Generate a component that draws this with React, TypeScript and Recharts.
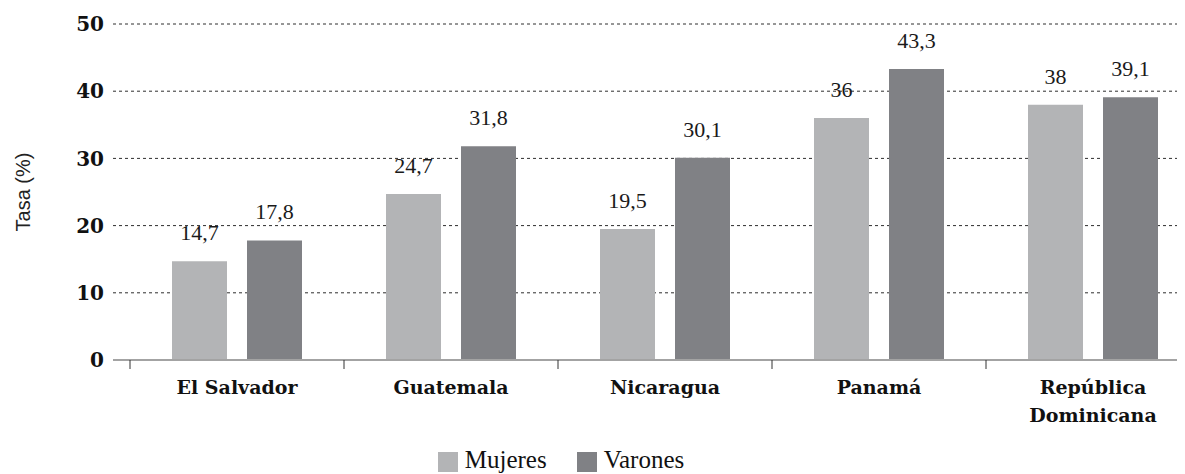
import React from 'react';
import { BarChart, Bar, XAxis, YAxis, CartesianGrid, Legend, LabelList } from 'recharts';

// Tasa (%) por país y sexo
const COUNTRIES = ['El Salvador', 'Guatemala', 'Nicaragua', 'Panamá', 'República\nDominicana'];
const MUJERES = [14.7, 24.7, 19.5, 36, 38];
const VARONES = [17.8, 31.8, 30.1, 43.3, 39.1];
const Y_TICKS = [0, 10, 20, 30, 40, 50];

const SERIES = [
  { key: 'mujeres', name: 'Mujeres', color: '#b3b4b6' },
  { key: 'varones', name: 'Varones', color: '#808185' },
];

const data = COUNTRIES.map((name, i) => ({
  name,
  mujeres: MUJERES[i],
  varones: VARONES[i],
}));

const fmt = (v: any) => String(v).replace('.', ',');

const labelStyle = {
  fontFamily: '"Liberation Serif", serif',
  fontSize: 22,
  fill: '#1a1a1a',
};

function CountryTick({ x, y, payload }: any) {
  // tick mark sits on the left edge of each category band
  const half = payload?.offset ?? 107;
  const lines = String(payload.value).split('\n');
  return (
    <g>
      <line x1={x - half} x2={x - half} y1={y} y2={y + 9} stroke="#333" strokeWidth={1} />
      <text
        x={x}
        y={y + 34}
        textAnchor="middle"
        fontFamily="DejaVu Serif"
        fontWeight="bold"
        fontSize={19}
        fill="#111"
      >
        {lines.map((line, i) => (
          <tspan key={i} x={x} dy={i === 0 ? 0 : 28}>
            {line}
          </tspan>
        ))}
      </text>
    </g>
  );
}

function SeriesLegend() {
  return (
    <div
      style={{
        display: 'flex',
        justifyContent: 'center',
        alignItems: 'flex-end',
        gap: 30,
        height: 24,
        fontFamily: '"Liberation Serif", serif',
        fontSize: 25,
        color: '#111',
      }}
    >
      {SERIES.map((s) => (
        <div key={s.key} style={{ display: 'flex', alignItems: 'flex-end', gap: 7 }}>
          <span style={{ display: 'inline-block', width: 20, height: 20, background: s.color }} />
          <span style={{ lineHeight: '24px' }}>{s.name}</span>
        </div>
      ))}
    </div>
  );
}

export default function App() {
  return (
    <div style={{ width: 1177, overflow: 'hidden' }}>
      <BarChart
        width={1192}
        height={466}
        data={data}
        margin={{ top: 16, right: 0, bottom: 2, left: 0 }}
        barSize={55}
        barGap={20}
      >
        <CartesianGrid vertical={false} stroke="#2e2e2e" strokeDasharray="3 3" />
        <XAxis
          dataKey="name"
          interval={0}
          height={88}
          padding={{ left: 17, right: 0 }}
          tickSize={0}
          tickMargin={0}
          tickLine={false}
          axisLine={{ stroke: '#a3a3a3', strokeWidth: 2 }}
          tick={<CountryTick />}
        />
        <YAxis
          width={105}
          domain={[0, 50]}
          ticks={Y_TICKS}
          tickSize={0}
          tickMargin={9}
          tickLine={false}
          axisLine={false}
          tick={{ fontFamily: 'DejaVu Serif', fontWeight: 'bold', fontSize: 20, fill: '#111' }}
          label={{
            value: 'Tasa (%)',
            angle: -90,
            position: 'insideLeft',
            offset: 15,
            style: { textAnchor: 'middle', fontFamily: 'Liberation Sans', fontSize: 20, fill: '#222' },
          }}
        />
        <Legend
          verticalAlign="bottom"
          content={<SeriesLegend />}
          wrapperStyle={{ left: 0, width: 1106, bottom: 2 }}
        />
        {SERIES.map((s) => (
          <Bar key={s.key} dataKey={s.key} name={s.name} fill={s.color} isAnimationActive={false}>
            <LabelList dataKey={s.key} position="top" offset={21} formatter={fmt} style={labelStyle} />
          </Bar>
        ))}
      </BarChart>
    </div>
  );
}
